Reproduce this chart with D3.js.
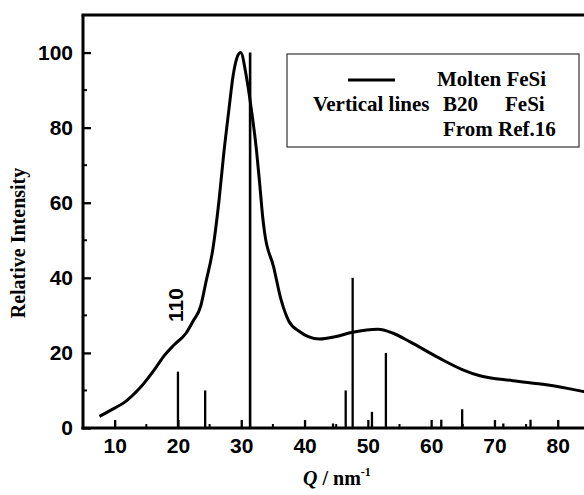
<!DOCTYPE html>
<html>
  <head>
    <meta charset="UTF-8">
    <title>Molten FeSi diffraction</title>
    <script src="https://d3js.org/d3.v7.min.js"></script>
    <style>
      body { margin: 0; background: #fff; }
      svg { display: block; }
    </style>
  </head>
  <body>
    <div id="chart-container"></div>
    <script>
      // Curve: molten FeSi (Q in nm^-1, relative intensity)
      const curveQ = [7.6, 10, 11.6, 13.9, 16.6, 17.8, 19.5, 21.3, 22.4, 23.6, 24.4, 25.5, 26.5, 27.2,
        28.05, 28.7, 29.3, 29.9, 30.8, 31.6, 32.4, 32.9, 33.4, 33.7, 35.1, 36.3, 37.5, 39.2, 40.5,
        42.4, 44.8, 47.6, 51.6, 53.9, 56.6, 61.3, 65, 67.7, 72.9, 78.2, 84.1, 85];
      const curveI = [3.1, 5.3, 6.9, 10.5, 16.3, 19.2, 22.3, 25.3, 28.5, 32.5, 38.7, 47.5, 60.8, 72.5,
        84.8, 93.7, 98.5, 100, 93.7, 84.8, 74.1, 65.3, 56, 51.9, 43, 34.1, 28.5, 25.7, 24.4,
        23.7, 24.3, 25.5, 26.3, 25.3, 23, 18.6, 15.5, 13.9, 12.6, 11.5, 9.7, 9.4];

      // Vertical lines: B20 FeSi reflections (Ref.16)
      const barQ = [20, 24.3, 31.4, 44.5, 46.5, 47.6, 50.65, 52.85, 61.6, 64.9, 71.4, 75.7];
      const barI = [15, 10, 100, 1.2, 10, 40, 4.3, 20, 2.2, 5, 1.2, 2.2];

      const xTicks = [10, 20, 30, 40, 50, 60, 70, 80];
      const xMinor = [15, 25, 35, 45, 55, 65, 75];
      const yTicks = [0, 20, 40, 60, 80, 100];
      const yMinor = [10, 30, 50, 70, 90];

      const W = 584, H = 495;
      const plotLeft = 83, plotBottom = 428, plotTop = 15;

      const svg = d3.select("#chart-container")
        .append("svg")
        .attr("width", W)
        .attr("height", H);

      const x = d3.scaleLinear().domain([5, 90]).range([plotLeft, plotLeft + 85 * 6.33]);
      const y = d3.scaleLinear().domain([0, 110]).range([plotBottom, plotTop]);

      const tickFont = "'Liberation Sans', Arial, sans-serif";
      const serif = "'Liberation Serif', 'Times New Roman', serif";

      // vertical reference lines
      svg.append("g")
        .selectAll("line")
        .data(barQ.map((q, i) => ({q: q, v: barI[i]})))
        .join("line")
        .attr("x1", d => x(d.q))
        .attr("x2", d => x(d.q))
        .attr("y1", y(0))
        .attr("y2", d => y(d.v))
        .attr("stroke", "#000")
        .attr("stroke-width", d => d.v === 100 ? 2.6 : 2.3);

      // molten curve
      const line = d3.line()
        .x(d => x(d[0]))
        .y(d => y(d[1]))
        .curve(d3.curveMonotoneX);
      svg.append("path")
        .datum(curveQ.map((q, i) => [q, curveI[i]]))
        .attr("d", line)
        .attr("fill", "none")
        .attr("stroke", "#000")
        .attr("stroke-width", 3);

      // x axis (ticks pointing in)
      const xAxis = svg.append("g")
        .attr("transform", `translate(0,${plotBottom})`)
        .call(d3.axisBottom(x).tickValues(xTicks).tickSizeInner(-8).tickSizeOuter(0).tickPadding(10));
      xAxis.select(".domain").remove();
      xAxis.selectAll("line").attr("stroke-width", 2.3);
      xAxis.selectAll("text")
        .attr("font-family", tickFont)
        .attr("font-weight", "bold")
        .attr("font-size", "21px")
        .attr("fill", "#000");

      svg.append("g")
        .selectAll("line")
        .data(xMinor)
        .join("line")
        .attr("x1", d => x(d)).attr("x2", d => x(d))
        .attr("y1", plotBottom).attr("y2", plotBottom - 4)
        .attr("stroke", "#000").attr("stroke-width", 2);

      // y axis
      const yAxis = svg.append("g")
        .attr("transform", `translate(${plotLeft},0)`)
        .call(d3.axisLeft(y).tickValues(yTicks).tickSizeInner(-8).tickSizeOuter(0).tickPadding(10));
      yAxis.select(".domain").remove();
      yAxis.selectAll("line").attr("stroke-width", 2.3);
      yAxis.selectAll("text")
        .attr("font-family", tickFont)
        .attr("font-weight", "bold")
        .attr("font-size", "21px")
        .attr("fill", "#000");

      svg.append("g")
        .selectAll("line")
        .data(yMinor)
        .join("line")
        .attr("x1", plotLeft).attr("x2", plotLeft + 4)
        .attr("y1", d => y(d)).attr("y2", d => y(d))
        .attr("stroke", "#000").attr("stroke-width", 2);

      // frame lines
      svg.append("line")
        .attr("x1", plotLeft).attr("x2", plotLeft).attr("y1", plotTop).attr("y2", plotBottom + 1.5)
        .attr("stroke", "#000").attr("stroke-width", 3);
      svg.append("line")
        .attr("x1", plotLeft - 1.5).attr("x2", W).attr("y1", plotBottom).attr("y2", plotBottom)
        .attr("stroke", "#000").attr("stroke-width", 3);
      svg.append("line")
        .attr("x1", plotLeft - 1.5).attr("x2", W).attr("y1", plotTop).attr("y2", plotTop)
        .attr("stroke", "#000").attr("stroke-width", 3);

      // legend box
      const legend = svg.append("g");
      legend.append("rect")
        .attr("x", 287).attr("y", 54).attr("width", 292).attr("height", 93)
        .attr("fill", "#fff").attr("stroke", "#333").attr("stroke-width", 1.2);
      legend.append("line")
        .attr("x1", 348).attr("x2", 395).attr("y1", 80).attr("y2", 80)
        .attr("stroke", "#000").attr("stroke-width", 3);
      const legendText = [
        {t: "Molten FeSi", x: 437, y: 86},
        {t: "Vertical lines", x: 313, y: 111},
        {t: "B20", x: 443, y: 111},
        {t: "FeSi", x: 505, y: 111},
        {t: "From Ref.16", x: 443, y: 136}
      ];
      legend.selectAll("text")
        .data(legendText)
        .join("text")
        .attr("x", d => d.x)
        .attr("y", d => d.y)
        .attr("font-family", serif)
        .attr("font-weight", "bold")
        .attr("font-size", "21px")
        .text(d => d.t);

      // peak annotation
      svg.append("text")
        .attr("transform", "translate(183,305) rotate(-90)")
        .attr("text-anchor", "middle")
        .attr("font-family", tickFont)
        .attr("font-weight", "bold")
        .attr("font-size", "21px")
        .text("110");

      // axis titles
      svg.append("text")
        .attr("transform", "translate(25,243) rotate(-90)")
        .attr("text-anchor", "middle")
        .attr("font-family", serif)
        .attr("font-weight", "bold")
        .attr("font-size", "20px")
        .text("Relative Intensity");

      const xTitle = svg.append("text")
        .attr("x", 303)
        .attr("y", 485)
        .attr("font-family", serif)
        .attr("font-weight", "bold")
        .attr("font-size", "20px");
      xTitle.append("tspan").attr("font-style", "italic").text("Q");
      xTitle.append("tspan").text(" / nm");
      xTitle.append("tspan").attr("font-size", "12px").attr("dy", -9).text("-1");
    </script>
  </body>
</html>
